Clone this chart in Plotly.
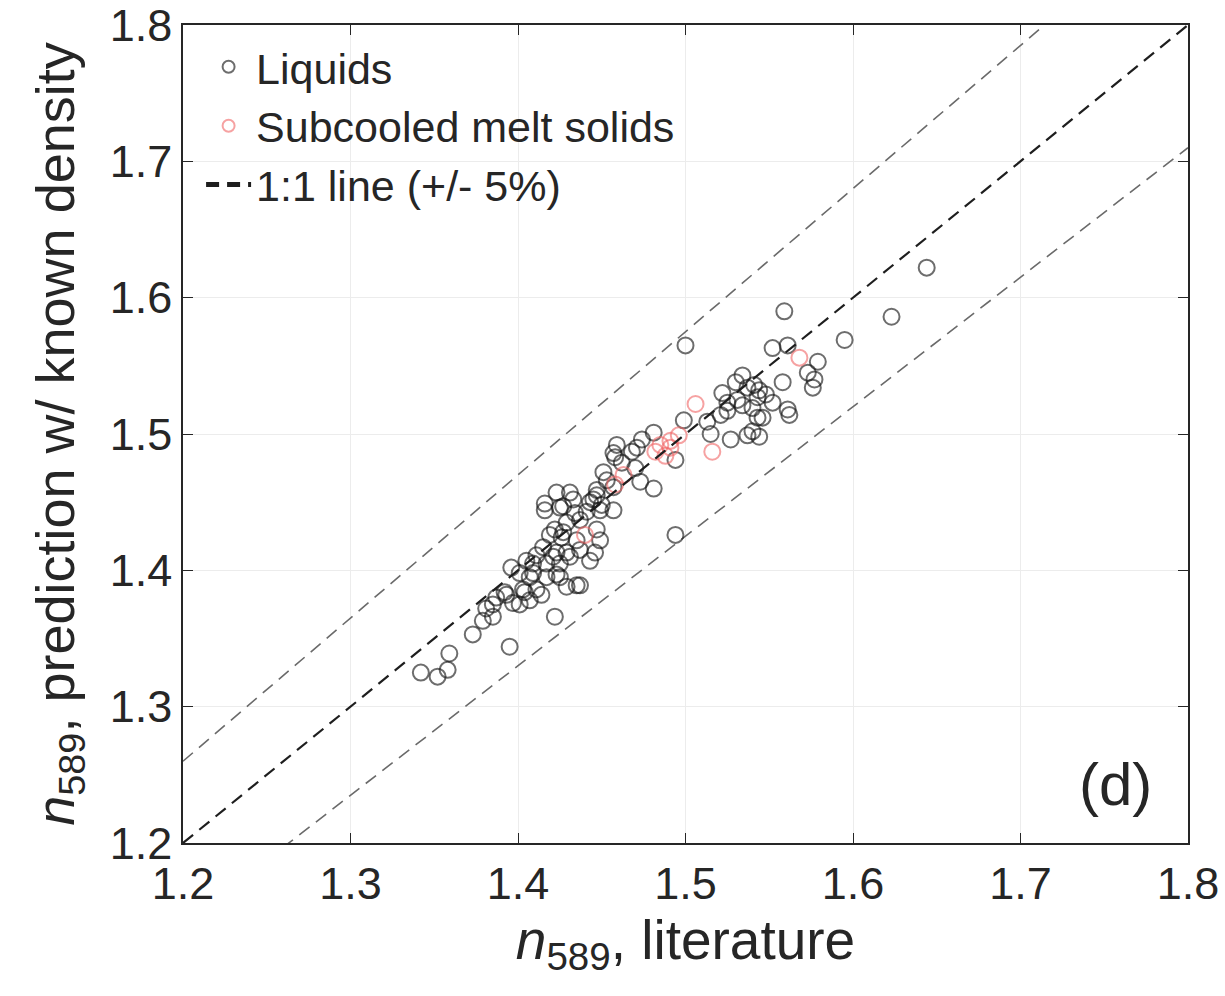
import plotly.graph_objects as go

# Liquids: (literature n589, predicted n589)
liq_x = [1.342, 1.352, 1.358, 1.359, 1.373, 1.379, 1.385, 1.381, 1.387, 1.393,
         1.395, 1.396, 1.401, 1.404, 1.407, 1.409, 1.414, 1.417, 1.415, 1.419,
         1.423, 1.425, 1.423, 1.422, 1.427, 1.431, 1.435, 1.435, 1.459, 1.457,
         1.451, 1.423, 1.416, 1.416, 1.425, 1.433, 1.434, 1.441, 1.445, 1.449,
         1.457, 1.437, 1.429, 1.422, 1.426, 1.447, 1.449, 1.446, 1.443, 1.437,
         1.429, 1.421, 1.417, 1.411, 1.405, 1.401, 1.409, 1.425, 1.437, 1.429,
         1.411, 1.403, 1.392, 1.385, 1.407, 1.397, 1.453, 1.447, 1.450, 1.443,
         1.500, 1.552, 1.561, 1.579, 1.573, 1.577, 1.576, 1.595, 1.534, 1.530,
         1.537, 1.541, 1.544, 1.548, 1.558, 1.561, 1.522, 1.525, 1.531, 1.534,
         1.540, 1.543, 1.537, 1.544, 1.527, 1.521, 1.513, 1.515, 1.499, 1.494,
         1.481, 1.474, 1.471, 1.468, 1.458, 1.462, 1.470, 1.473, 1.481, 1.457,
         1.447, 1.431, 1.427, 1.644, 1.559, 1.623, 1.494, 1.552, 1.546, 1.525,
         1.540, 1.543, 1.562]
liq_y = [1.325, 1.322, 1.327, 1.339, 1.353, 1.363, 1.366, 1.372, 1.380, 1.382,
         1.344, 1.402, 1.375, 1.384, 1.395, 1.405, 1.382, 1.395, 1.417, 1.426,
         1.413, 1.405, 1.397, 1.366, 1.428, 1.410, 1.389, 1.422, 1.492, 1.486,
         1.472, 1.457, 1.449, 1.444, 1.446, 1.452, 1.442, 1.443, 1.452, 1.444,
         1.444, 1.437, 1.435, 1.430, 1.424, 1.430, 1.422, 1.413, 1.407, 1.415,
         1.413, 1.410, 1.405, 1.411, 1.407, 1.398, 1.398, 1.395, 1.389, 1.388,
         1.386, 1.386, 1.384, 1.375, 1.378, 1.376, 1.466, 1.455, 1.448, 1.450,
         1.565, 1.563, 1.565, 1.553, 1.545, 1.540, 1.534, 1.569, 1.543, 1.538,
         1.534, 1.536, 1.532, 1.529, 1.538, 1.518, 1.530, 1.523, 1.525, 1.521,
         1.519, 1.512, 1.499, 1.498, 1.496, 1.514, 1.509, 1.500, 1.510, 1.481,
         1.501, 1.496, 1.490, 1.487, 1.483, 1.479, 1.475, 1.465, 1.460, 1.461,
         1.459, 1.457, 1.447, 1.622, 1.590, 1.586, 1.426, 1.523, 1.512, 1.517,
         1.502, 1.527, 1.514]

# Subcooled melt solids
sol_x = [1.440, 1.463, 1.458, 1.485, 1.491, 1.488, 1.482, 1.496, 1.506, 1.516, 1.568, 1.491]
sol_y = [1.426, 1.470, 1.463, 1.492, 1.490, 1.484, 1.487, 1.499, 1.522, 1.487, 1.556, 1.495]

# 1:1 line and +/- 5% bounds
line_x = [1.2, 1.8]
ratio_center = 1.0
ratio_bounds = [1.05, 0.95]

ticks = [1.2, 1.3, 1.4, 1.5, 1.6, 1.7, 1.8]
tick_text = ["1.2", "1.3", "1.4", "1.5", "1.6", "1.7", "1.8"]

FONT = "Liberation Sans, Arial, Helvetica, sans-serif"
AX = "#262626"

fig = go.Figure()

for r in ratio_bounds:
    fig.add_trace(go.Scatter(
        x=line_x, y=[v * r for v in line_x], mode="lines",
        line=dict(color="#6a6a6a", width=1.6, dash="13px,8px"),
        showlegend=False, hoverinfo="skip"))

fig.add_trace(go.Scatter(
    x=liq_x, y=liq_y, mode="markers", name="Liquids",
    marker=dict(symbol="circle-open", size=16, color="rgba(20,20,20,0.62)",
                line=dict(width=2))))

fig.add_trace(go.Scatter(
    x=sol_x, y=sol_y, mode="markers", name="Subcooled melt solids",
    marker=dict(symbol="circle-open", size=16, color="rgba(240,100,100,0.6)",
                line=dict(width=2))))

fig.add_trace(go.Scatter(
    x=line_x, y=[v * ratio_center for v in line_x], mode="lines",
    name="1:1 line (+/- 5%)",
    line=dict(color="#1e1e1e", width=2.2, dash="13px,8px")))

axis_common = dict(
    range=[1.2, 1.8], tickvals=ticks, ticktext=tick_text,
    showgrid=True, gridcolor="#ececec", gridwidth=1,
    zeroline=False, showline=True, linecolor=AX, linewidth=1.5,
    mirror="ticks", ticks="inside", ticklen=10, tickcolor=AX, tickwidth=1.2,
    tickfont=dict(family=FONT, size=45, color=AX),
    ticklabeloverflow="allow", automargin=False,
)

fig.update_layout(
    width=1225, height=996,
    margin=dict(l=183, r=37, t=25, b=153, autoexpand=False),
    paper_bgcolor="white", plot_bgcolor="white",
    font=dict(family=FONT, color=AX),
    xaxis=dict(**axis_common,
               title=dict(text="<i>n</i><sub>589</sub>, literature",
                          font=dict(family=FONT, size=55, color=AX), standoff=4)),
    yaxis=dict(**axis_common,
               title=dict(text="<i>n</i><sub>589</sub>, prediction w/ known density",
                          font=dict(family=FONT, size=54, color=AX), standoff=18)),
    legend=dict(x=0.018, y=0.991, xanchor="left", yanchor="top",
                bgcolor="rgba(255,255,255,0)", borderwidth=0,
                font=dict(family=FONT, size=43, color=AX),
                itemsizing="constant", itemwidth=45, tracegroupgap=0),
    annotations=[dict(x=1.757, y=1.243, xref="x", yref="y", text="(d)",
                      showarrow=False, font=dict(family=FONT, size=60, color=AX))],
)

fig.write_html("out.html")
